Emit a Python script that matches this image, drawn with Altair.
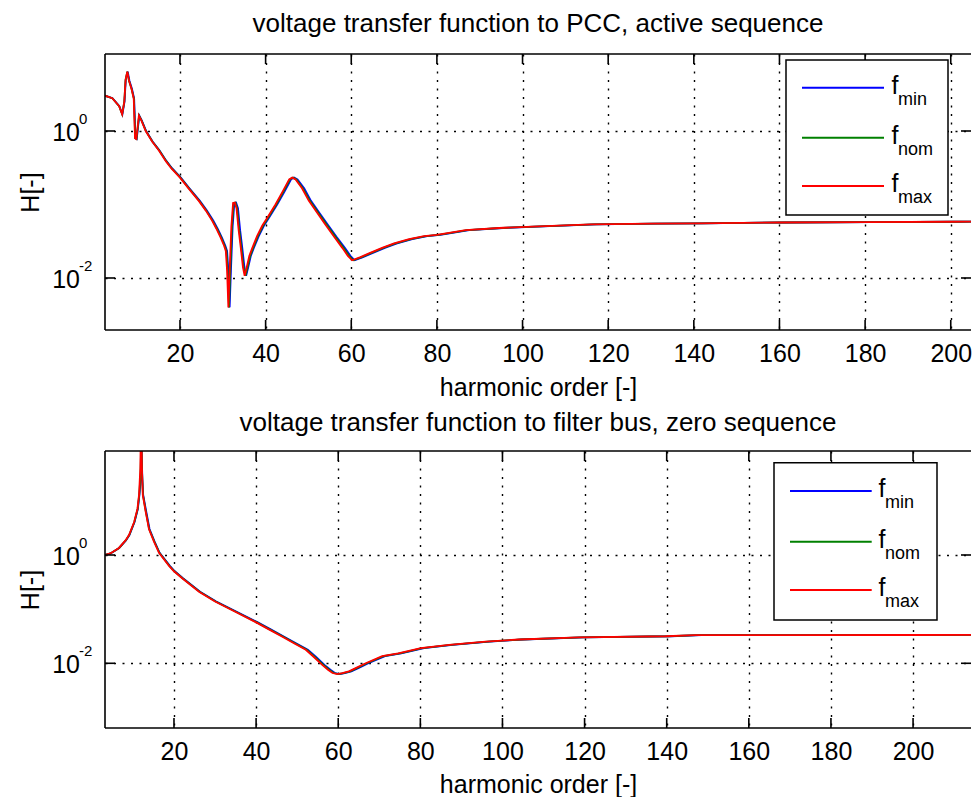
import altair as alt
import pandas as pd

FONT = "Liberation Sans"
BLUE, GREEN, RED = "#0000ff", "#008000", "#ff0000"

# ---------------- data: top panel (active sequence, PCC) ----------------
top_h_max = [2.5, 4.2, 5.8, 6.5, 7.0, 7.3, 7.7, 8.1, 8.7, 9.2,
             9.5, 9.8, 10.4, 11.0, 12.0, 13.5, 15.0, 16.7, 18.0, 20.0,
             22.0, 24.4, 26.0, 27.5, 28.5, 29.5, 30.3, 30.7, 31.0, 31.3,
             31.6, 32.0, 32.4, 32.8, 33.2, 33.7, 34.2, 34.7, 35.1, 35.6,
             36.2, 36.9, 38.0, 39.2, 40.5, 42.3, 44.0, 45.5, 46.2, 47.0,
             48.5, 50.1, 52.0, 53.9, 56.0, 57.9, 59.2, 60.2, 62.0, 64.0,
             67.2, 70.0, 73.5, 77.0, 80.0, 86.7, 94.5, 102.3, 116, 130,
             141, 160, 180, 200, 210]
top_h_nom = [2.5, 4.2, 5.8, 6.5, 7.0, 7.3, 7.7, 8.1, 8.7, 9.25,
             9.55, 9.85, 10.45, 11.05, 12.05, 13.55, 15.1, 16.8, 18.1, 20.1,
             22.1, 24.5, 26.1, 27.6, 28.65, 29.65, 30.45, 30.85, 31.15, 31.45,
             31.75, 32.15, 32.55, 32.95, 33.35, 33.85, 34.35, 34.85, 35.3, 35.8,
             36.4, 37.1, 38.2, 39.4, 40.7, 42.5, 44.2, 45.7, 46.4, 47.2,
             48.7, 50.35, 52.25, 54.2, 56.3, 58.2, 59.5, 60.5, 62.3, 64.3,
             67.5, 70.35, 73.9, 77.4, 80.4, 87.1, 95.0, 102.8, 116.6, 130.6,
             141.7, 160.8, 180.9, 201, 211]
top_h_min = [2.5, 4.25, 5.85, 6.55, 7.05, 7.35, 7.8, 8.2, 8.8, 9.3,
             9.6, 9.9, 10.5, 11.1, 12.1, 13.6, 15.15, 16.85, 18.2, 20.2,
             22.2, 24.65, 26.25, 27.8, 28.8, 29.8, 30.6, 31.0, 31.3, 31.6,
             31.9, 32.3, 32.7, 33.1, 33.55, 34.05, 34.55, 35.05, 35.45, 35.95,
             36.55, 37.25, 38.4, 39.6, 40.9, 42.7, 44.45, 45.95, 46.65, 47.45,
             49.0, 50.6, 52.5, 54.45, 56.55, 58.5, 59.8, 60.8, 62.6, 64.65,
             67.85, 70.7, 74.25, 77.75, 80.8, 87.55, 95.45, 103.3, 117.2, 131.3,
             142.4, 161.6, 181.8, 202, 212]
top_H = [3.02, 2.79, 2.17, 1.69, 2.51, 5.01, 6.41, 4.84, 3.72, 2.75,
         0.80, 0.78, 1.62, 1.38, 1.00, 0.72, 0.55, 0.389, 0.309, 0.232,
         0.166, 0.112, 0.0832, 0.0603, 0.0468, 0.0355, 0.0275, 0.0234, 0.0126, 0.00398,
         0.0126, 0.0501, 0.105, 0.106, 0.0891, 0.0447, 0.0257, 0.0141, 0.0107, 0.0141,
         0.0200, 0.0257, 0.0372, 0.0513, 0.0676, 0.100, 0.151, 0.220, 0.232, 0.219,
         0.166, 0.112, 0.0776, 0.0537, 0.0363, 0.0257, 0.0200, 0.0174, 0.0191, 0.0214,
         0.0257, 0.0295, 0.0339, 0.0372, 0.0385, 0.0447, 0.0479, 0.0501, 0.0537, 0.0550,
         0.0555, 0.0569, 0.0575, 0.0582, 0.0585]

# ---------------- data: bottom panel (zero sequence, filter bus) ----------------
bot_h_max = [3.2, 4.5, 6.6, 8.2, 9.05, 10.3, 11.1, 11.5, 11.8, 12.0,
             12.2, 12.4, 13.1, 13.9, 15.1, 16.35, 18.8, 20.0, 22.0, 26.1,
             30.0, 34.2, 39.9, 43.0, 46.4, 49.0, 52.1, 54.0, 56.1, 57.5,
             58.6, 59.8, 61.0, 62.6, 64.5, 66.7, 70.7, 74.6, 80.1, 87.0,
             95.9, 104.0, 118.6, 139.7, 147.0, 170, 200, 216]
bot_h_nom = [3.2, 4.5, 6.65, 8.25, 9.1, 10.35, 11.15, 11.55, 11.85, 12.05,
             12.25, 12.45, 13.15, 13.95, 15.2, 16.45, 18.9, 20.1, 22.1, 26.25,
             30.15, 34.35, 40.1, 43.2, 46.65, 49.25, 52.35, 54.25, 56.4, 57.8,
             58.9, 60.1, 61.3, 62.9, 64.8, 67.0, 71.05, 75.0, 80.5, 87.4,
             96.4, 104.5, 119.2, 140.4, 147.7, 170.8, 201, 217]
bot_h_min = [3.2, 4.55, 6.65, 8.3, 9.15, 10.4, 11.2, 11.6, 11.9, 12.1,
             12.3, 12.5, 13.25, 14.05, 15.25, 16.5, 19.0, 20.2, 22.2, 26.35,
             30.3, 34.55, 40.3, 43.45, 46.85, 49.5, 52.6, 54.55, 56.65, 58.1,
             59.2, 60.4, 61.6, 63.2, 65.15, 67.35, 71.4, 75.35, 80.9, 87.85,
             96.85, 105, 119.8, 141.1, 148.5, 171.7, 202, 218]
bot_H_max = [1.00, 1.07, 1.35, 1.86, 2.34, 4.07, 7.08, 13.2, 39.8, 398,
             39.8, 12.9, 6.31, 3.02, 1.78, 1.10, 0.631, 0.501, 0.372, 0.209,
             0.138, 0.0955, 0.0575, 0.0427, 0.0309, 0.0240, 0.0178, 0.0132, 0.00933, 0.00759,
             0.00661, 0.00631, 0.00661, 0.00708, 0.00832, 0.0100, 0.0136, 0.0153, 0.0191, 0.0219,
             0.0251, 0.0275, 0.0302, 0.0316, 0.0331, 0.0331, 0.0333, 0.0335]
bot_H_nom = [1.00, 1.07, 1.35, 1.86, 2.34, 4.07, 7.08, 13.2, 30.0, 150,
             30.0, 12.9, 6.31, 3.02, 1.78, 1.10, 0.631, 0.501, 0.372, 0.209,
             0.138, 0.0955, 0.0575, 0.0427, 0.0309, 0.0240, 0.0178, 0.0132, 0.00933, 0.00759,
             0.00661, 0.00631, 0.00661, 0.00708, 0.00832, 0.0100, 0.0136, 0.0153, 0.0191, 0.0219,
             0.0251, 0.0275, 0.0302, 0.0316, 0.0331, 0.0331, 0.0333, 0.0335]
bot_H_min = [1.00, 1.07, 1.35, 1.86, 2.34, 4.07, 7.08, 13.2, 25.0, 100,
             25.0, 12.9, 6.31, 3.02, 1.78, 1.10, 0.631, 0.501, 0.372, 0.209,
             0.138, 0.0955, 0.0575, 0.0427, 0.0309, 0.0240, 0.0178, 0.0132, 0.00933, 0.00759,
             0.00661, 0.00631, 0.00661, 0.00708, 0.00832, 0.0100, 0.0136, 0.0153, 0.0191, 0.0219,
             0.0251, 0.0275, 0.0302, 0.0316, 0.0331, 0.0331, 0.0333, 0.0335]

x_ticks = [20, 40, 60, 80, 100, 120, 140, 160, 180, 200]
y_ticks = [1, 0.01]
y_tick_base = ["10", "10"]
y_tick_exp = ["0", "-2"]
legend_subs = ["min", "nom", "max"]
legend_colors = [BLUE, GREEN, RED]

W = 866
dummy = pd.DataFrame({"a": [0]})


def panel(series, xdom, ydom, Ht, title, title_offset, title_pad, leg):
    xs = alt.Scale(domain=xdom, nice=False, zero=False)
    ys = alt.Scale(type="log", domain=ydom, nice=False)
    xaxis = alt.Axis(values=x_ticks, grid=True, gridColor="#000", gridDash=[2, 6.5],
                     gridWidth=1.4, gridOpacity=1, ticks=False, tickSize=0, domain=False,
                     labelFont=FONT, labelFontSize=25, labelColor="#000", labelPadding=11,
                     labelFlush=False, title="harmonic order [-]", titleFont=FONT,
                     titleFontSize=25, titleFontWeight="normal", titleColor="#000",
                     titlePadding=title_pad)
    yaxis = alt.Axis(values=y_ticks, grid=True, gridColor="#000", gridDash=[2, 6.5],
                     gridWidth=1.4, gridOpacity=1, ticks=False, tickSize=0, domain=False,
                     labels=False, title="H[-]", titleFont=FONT, titleFontSize=25,
                     titleFontWeight="normal", titleColor="#000", titlePadding=62)
    X = lambda f: alt.X(f, scale=xs, axis=xaxis)
    Y = lambda f: alt.Y(f, scale=ys, axis=yaxis)
    layers = []
    for (hs, Hs), color in zip(series, legend_colors):
        df = pd.DataFrame({"h": hs, "H": Hs})
        layers.append(
            alt.Chart(df).mark_line(color=color, strokeWidth=1.8, clip=True).encode(
                x=X("h:Q"), y=Y("H:Q"))
        )
    xt = pd.DataFrame({"h": x_ticks})
    yt = pd.DataFrame({"H": y_ticks, "b": y_tick_base, "e": y_tick_exp})
    rs = dict(color="#000", strokeWidth=1.6)
    # inward ticks
    layers.append(alt.Chart(xt).mark_rule(**rs).encode(
        x=X("h:Q"), y=alt.value(Ht), y2=alt.value(Ht - 10)))
    layers.append(alt.Chart(xt).mark_rule(**rs).encode(
        x=X("h:Q"), y=alt.value(0), y2=alt.value(10)))
    layers.append(alt.Chart(yt).mark_rule(**rs).encode(
        y=Y("H:Q"), x=alt.value(0), x2=alt.value(10)))
    layers.append(alt.Chart(yt).mark_rule(**rs).encode(
        y=Y("H:Q"), x=alt.value(W - 10), x2=alt.value(W)))
    # frame (left, top, bottom)
    layers.append(alt.Chart(dummy).mark_rule(**rs).encode(
        x=alt.value(0), y=alt.value(0), y2=alt.value(Ht)))
    layers.append(alt.Chart(dummy).mark_rule(**rs).encode(
        x=alt.value(0), x2=alt.value(W), y=alt.value(0)))
    layers.append(alt.Chart(dummy).mark_rule(**rs).encode(
        x=alt.value(0), x2=alt.value(W), y=alt.value(Ht)))
    # y tick labels 10^n
    layers.append(alt.Chart(yt).mark_text(align="right", baseline="middle", font=FONT,
                                          fontSize=25, color="#000", dy=2).encode(
        y=Y("H:Q"), x=alt.value(-25), text="b:N"))
    layers.append(alt.Chart(yt).mark_text(align="left", baseline="middle", font=FONT,
                                          fontSize=15, color="#000", dy=-12).encode(
        y=Y("H:Q"), x=alt.value(-26), text="e:N"))
    # legend
    bx0, bx1, by0, by1, lx0, lx1, lys, fx = leg
    layers.append(alt.Chart(dummy).mark_rect(fill="white", stroke="#000", strokeWidth=1.5).encode(
        x=alt.value(bx0), x2=alt.value(bx1), y=alt.value(by0), y2=alt.value(by1)))
    for ly, sub, color in zip(lys, legend_subs, legend_colors):
        layers.append(alt.Chart(dummy).mark_rule(color=color, strokeWidth=2).encode(
            x=alt.value(lx0), x2=alt.value(lx1), y=alt.value(ly)))
        layers.append(alt.Chart(dummy).mark_text(align="left", baseline="alphabetic", font=FONT,
                                                 fontSize=25, color="#000").encode(
            x=alt.value(fx), y=alt.value(ly + 6), text=alt.value("f")))
        layers.append(alt.Chart(dummy).mark_text(align="left", baseline="alphabetic", font=FONT,
                                                 fontSize=18, color="#000").encode(
            x=alt.value(fx + 6.5), y=alt.value(ly + 16.8), text=alt.value(sub)))
    return alt.layer(*layers).properties(
        width=W, height=Ht,
        title=alt.TitleParams(title, font=FONT, fontSize=26, fontWeight="normal", color="#000",
                              frame="group", anchor="middle", baseline="alphabetic",
                              offset=title_offset),
    )


top = panel(
    [(top_h_min, top_H), (top_h_nom, top_H), (top_h_max, top_H)],
    [2.49, 204.73], [0.00196, 11.16], 276,
    "voltage transfer function to PCC, active sequence", -5, 9,
    (681, 843, 6, 161, 697, 779, [33.7, 83.7, 132], 786.5),
)
bottom = panel(
    [(bot_h_min, bot_H_min), (bot_h_nom, bot_H_nom), (bot_h_max, bot_H_max)],
    [3.2, 214.11], [0.000638, 83.3], 277,
    "voltage transfer function to filter bus, zero sequence", -7, 8,
    (669, 832, 11.7, 169, 685, 766.7, [40, 90.7, 139], 773.5),
)

chart = alt.vconcat(top, bottom, spacing=10).properties(
    padding={"left": 18, "top": 11, "right": 0, "bottom": 0},
    background="white",
).configure_view(stroke=None)

chart.save("out.html", embed_options={"renderer": "svg", "actions": False})
